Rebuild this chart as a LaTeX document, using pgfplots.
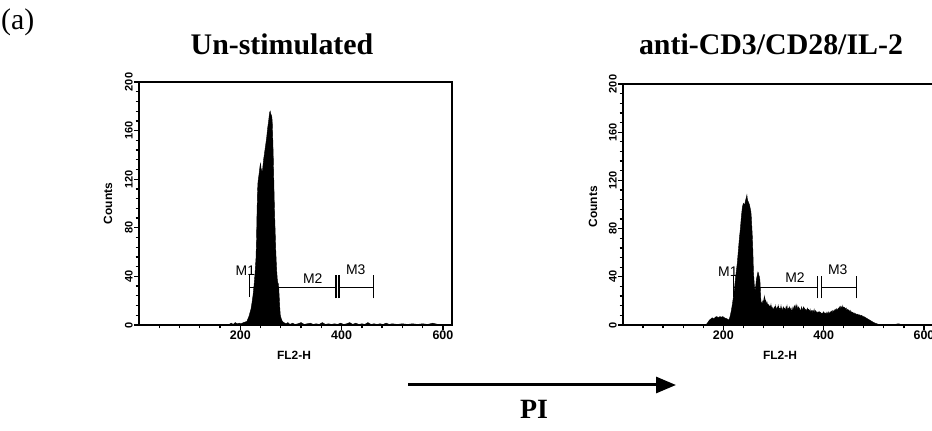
\documentclass[border=0pt]{standalone}
\usepackage{fontspec}
\setmainfont{Liberation Serif}
\setsansfont{Liberation Sans}
\usepackage{pgfplots}
\pgfplotsset{compat=1.18}
\usetikzlibrary{arrows.meta}
\tikzset{mlab/.style={font=\sffamily\fontsize{14}{14}\selectfont}}

\pgfplotsset{facs/.style={
  scale only axis, xmin=0, xmax=618, ymin=0, ymax=200,
  axis line style={line width=1.8bp},
  tick align=outside, xtick pos=lower, ytick pos=left,
  xtick={200,400,600}, minor xtick={40,80,...,600},
  ytick={0,40,...,200}, minor ytick={8,16,...,200},
  major tick length=5bp, minor tick length=3.5bp,
  every tick/.style={black, line width=1.3bp},
  /pgf/number format/assume math mode=true,
  xticklabel style={font=\sffamily\bfseries\fontsize{12.5}{13}\selectfont, inner sep=1bp},
  yticklabel style={font=\sffamily\bfseries\fontsize{11}{11}\selectfont, rotate=90, anchor=south, inner sep=1bp},
  clip=false, unbounded coords=jump,
}}

\begin{document}
\begin{tikzpicture}
\useasboundingbox (0,0) rectangle (932bp,431bp);

% ---------------- left panel ----------------
\begin{axis}[facs, at={(139bp,106bp)}, anchor=south west, width=313bp, height=243bp]
\addplot[black, line width=1.2bp] coordinates {
 (218,23) (218,41) (218,nan) (218,31) (276,31) (389,31) (389,nan)
 (389,22) (389,41) (389,nan) (395,22) (395,41) (395,nan)
 (395,31) (463,31) (463,nan) (463,22) (463,41)};
\node[mlab] at (axis cs:210,45) {M1};
\node[mlab] at (axis cs:343,38.5) {M2};
\node[mlab] at (axis cs:428,45.5) {M3};
\addplot[fill=black, draw=black, line width=0.4bp] coordinates {
(0,0) (170,0) (178,0.5) (182,1.5) (186,0.5) (190,2) (194,1) (198,1.5) (202,1) (206,2) (210,2.5) (213,3) (215,5) (217,7) (219,10) (221,13) (223,18) (225,24) (227,32) (229,42) (231,55) (232,70) (233,92) (234,110) (235,118) (237,124) (239,131) (240,133) (241,129) (243,126) (244,128) (246,136) (248,142) (250,148) (252,154) (254,162) (256,168) (257,172) (258,175) (259,176) (260,174) (262,172) (263,168) (264,155) (265,140) (266,122) (267,103) (268,88) (269,75) (270,62) (271,52) (272,44) (273,38) (274,35) (275,34) (276,30) (277,22) (278,14) (279,8) (281,5) (283,3) (286,2) (290,1) (294,2) (298,0.5) (303,1.5) (308,0.5) (314,1) (320,2) (326,0.5) (332,1) (338,1.5) (344,0.5) (350,1) (356,0.5) (362,2) (368,0.5) (374,1) (380,0.5) (386,1) (392,0.5) (398,1.5) (404,0.5) (410,1) (416,2) (422,0.5) (428,1.5) (434,0.5) (440,1) (446,0.5) (452,2) (458,0.5) (464,1) (470,0.5) (476,1) (482,0.5) (488,1.5) (494,0.5) (500,1) (510,0.5) (520,1) (530,0.5) (540,1) (550,0.5) (560,1) (570,0.5) (580,1.5) (590,0.5) (600,0.5) (610,0)
} \closedcycle;
\node[font=\sffamily\bfseries\fontsize{12}{12}\selectfont, rotate=90] at (axis cs:-61,100) {Counts};
\node[font=\sffamily\bfseries\fontsize{12}{12}\selectfont] at (axis cs:306,-25) {FL2-H};
\end{axis}

% ---------------- right panel ----------------
\begin{axis}[facs, at={(623bp,106bp)}, anchor=south west, width=310bp, height=241bp]
\addplot[black, line width=1.2bp] coordinates {
 (221,23) (221,41) (221,nan) (221,31) (276,31) (388,31) (388,nan)
 (388,22) (388,41) (388,nan) (396,22) (396,41) (396,nan)
 (396,31) (465,31) (465,nan) (465,22) (465,41)};
\node[mlab] at (axis cs:209,44) {M1};
\node[mlab] at (axis cs:343,39) {M2};
\node[mlab] at (axis cs:428,46) {M3};
\addplot[fill=black, draw=black, line width=0.4bp] coordinates {
(0,0) (165,0) (169,2) (172,4) (175,5) (178,6) (181,5) (184,6.5) (187,7) (190,6) (193,7) (196,6.5) (199,7) (202,6) (205,5.5) (208,5) (210,4) (212,5) (214,8) (216,12) (218,17) (220,23) (222,29) (224,38) (226,45) (228,52) (230,62) (232,72) (234,80) (236,90) (238,98) (240,101) (242,99) (244,103) (246,106) (247,108) (248,104) (250,102) (252,100) (254,96) (255,94) (256,88) (257,80) (258,72) (259,60) (260,45) (261,38) (262,32) (263,29) (264,30) (265,34) (266,38) (267,40) (268,42) (269,44) (270,43) (271,41) (272,40) (273,37) (274,28) (275,19)
(276,17) (277,19) (278,16) (279,20) (280,18) (281,22) (282,24) (283,19) (284,21) (285,17) (286,19) (287,15) (288,18) (289,14) (290,17) (291,16) (292,13) (293,16) (294,14) (295,17) (296,13) (297,15) (298,12) (299,14) (300,12) (302,15) (303,13) (304,16) (305,12) (306,14) (307,11) (308,15) (309,13) (310,16) (311,12) (312,14) (314,13) (315,16) (316,12) (317,14) (318,11) (320,15) (321,13) (322,14) (324,12) (325,15) (326,13) (327,16) (328,12) (330,14) (331,12) (332,15) (334,12) (335,14) (336,11) (338,13) (339,15) (340,12) (342,16) (343,13) (344,15) (345,17) (346,14) (347,16) (348,13) (350,15) (351,12) (352,14) (354,11) (355,13) (356,15) (357,12) (358,13) (360,15) (361,12) (362,14) (364,12) (365,13) (366,11) (368,14) (369,12) (370,13) (372,11) (373,13) (374,10) (376,12) (377,10) (378,12) (380,11) (381,13) (382,10) (384,12) (385,10) (386,11) (388,9.5) (389,11) (390,10) (392,11) (393,9) (394,10.5) (396,9) (397,10) (398,9) (400,11) (401,9.5) (402,10) (404,9) (405,10.5) (406,9) (408,10) (409,11) (410,9.5) (412,10) (413,11) (414,10) (416,11.5) (417,10) (418,12) (420,11) (421,12.5) (422,11) (424,13) (425,12) (426,13.5) (428,12) (429,14) (430,13) (432,15) (433,13) (434,15.5) (436,14) (437,16) (438,14) (440,15) (441,13.5) (442,14.5) (444,13) (445,14) (446,12) (448,13) (449,11.5) (450,12.5) (452,11) (453,12) (454,10.5) (456,11) (457,10) (458,10.5) (460,9.5) (461,10) (462,9) (464,9.5) (466,8.5) (468,9) (470,8) (472,8.5) (474,7.5) (476,8) (478,7) (480,7) (482,6.5) (484,6) (486,5.5) (488,5) (490,4.5) (492,4) (494,3.5) (496,3) (498,2.5) (500,2) (503,1.5) (506,1) (510,0.5) (515,0.3) (520,0) (540,0) (545,0.8) (550,1) (555,0.3) (560,0) (615,0)
} \closedcycle;
\node[font=\sffamily\bfseries\fontsize{12}{12}\selectfont, rotate=90] at (axis cs:-60,98) {Counts};
\node[font=\sffamily\bfseries\fontsize{12}{12}\selectfont] at (axis cs:313,-25) {FL2-H};
\end{axis}

% ---------------- annotations ----------------
\node[anchor=base west, inner sep=0pt, font=\fontsize{30}{30}\selectfont] at (1bp,401bp) {(a)};
\node[anchor=base, inner sep=0pt, font=\bfseries\fontsize{30}{30}\selectfont] at (282bp,376bp) {Un-stimulated};
\node[anchor=base, inner sep=0pt, font=\bfseries\fontsize{30}{30}\selectfont] at (771bp,376bp) {anti-CD3/CD28/IL-2};
\draw[line width=3bp, -{Triangle[length=20bp,width=16bp]}] (408bp,46bp) -- (676bp,46bp);
\node[anchor=base, inner sep=0pt, font=\bfseries\fontsize{28}{28}\selectfont] at (534bp,13bp) {PI};
\end{tikzpicture}
\end{document}
